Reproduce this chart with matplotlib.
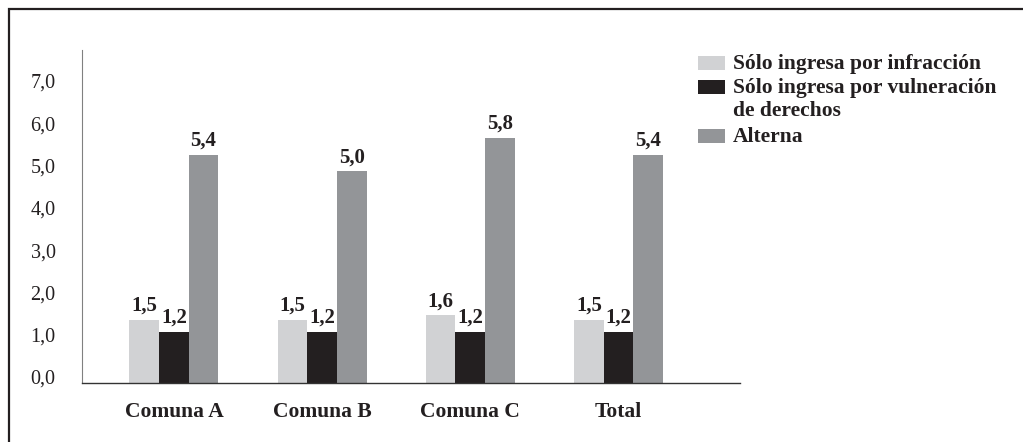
import numpy as np
import matplotlib
matplotlib.use('Agg')
import matplotlib.pyplot as plt
from matplotlib.patches import Rectangle
from matplotlib.transforms import ScaledTranslation

# data
categories = ['Comuna A', 'Comuna B', 'Comuna C', 'Total']
series_names = ['Sólo ingresa por infracción',
                'Sólo ingresa por vulneración\nde derechos',
                'Alterna']
infraccion = [1.5, 1.5, 1.6, 1.5]
vulneracion = [1.2, 1.2, 1.2, 1.2]
alterna = [5.4, 5.0, 5.8, 5.4]
yticks = [0.0, 1.0, 2.0, 3.0, 4.0, 5.0, 6.0, 7.0]

colors = ['#d1d2d4', '#231f20', '#939598']
ink = '#231f20'
serif = 'Liberation Serif'

W, H = 1023, 442
fig = plt.figure(figsize=(W / 100, H / 100), dpi=100)
ax = fig.add_axes([82 / W, 1 - 383 / H, (740 - 82) / W, (383 - 50) / H])

x = np.arange(len(categories))
bw = 0.2
for i, vals in enumerate([infraccion, vulneracion, alterna]):
    xs = x + (i - 1) * bw
    ax.bar(xs, vals, width=bw, color=colors[i], linewidth=0)
    for xx, v in zip(xs, vals):
        ax.annotate(f'{v:.1f}'.replace('.', ','), (xx, v), xytext=(0, 3),
                    textcoords='offset points', ha='center', va='bottom',
                    fontsize=15, fontweight='bold', family=serif, color=ink)

ax.set_xlim(-0.62, 3.82)
ax.set_ylim(0, 7.87)
ax.set_yticks(yticks)
ax.set_yticklabels([f'{t:.1f}'.replace('.', ',') for t in yticks],
                   family=serif, fontsize=14.5, color=ink)
ax.set_xticks(x)
ax.set_xticklabels(categories, family=serif, fontsize=15.5,
                   fontweight='bold', color=ink)
ax.tick_params(axis='y', length=0, pad=19)
ax.tick_params(axis='x', length=0, pad=14)
for lbl in ax.get_yticklabels():
    lbl.set_transform(lbl.get_transform() + ScaledTranslation(0, 6 / 100, fig.dpi_scale_trans))

for s in ['top', 'right']:
    ax.spines[s].set_visible(False)
ax.spines['left'].set_color('#808080')
ax.spines['left'].set_linewidth(0.8)
ax.spines['bottom'].set_color('#333333')
ax.spines['bottom'].set_linewidth(1.0)

# manual legend (handle aligned with first text line)
leg_rows = [63, 87, 136]
for name, c, yc in zip(series_names, colors, leg_rows):
    fig.patches.append(Rectangle((698 / W, 1 - (yc + 7) / H), 27 / W, 14 / H,
                                 transform=fig.transFigure, color=c, linewidth=0))
    fig.text(733 / W, 1 - (yc - 9) / H, name, ha='left', va='top',
             fontsize=15.5, fontweight='bold', family=serif, color=ink,
             linespacing=1.22)

# outer frame (cut by right and bottom edges)
fig.patches.append(Rectangle((9 / W, -0.05), 1.1, 1 - 9 / H + 0.05,
                             transform=fig.transFigure, fill=False,
                             edgecolor=ink, linewidth=1.6))

fig.savefig('out.png', dpi=100)
